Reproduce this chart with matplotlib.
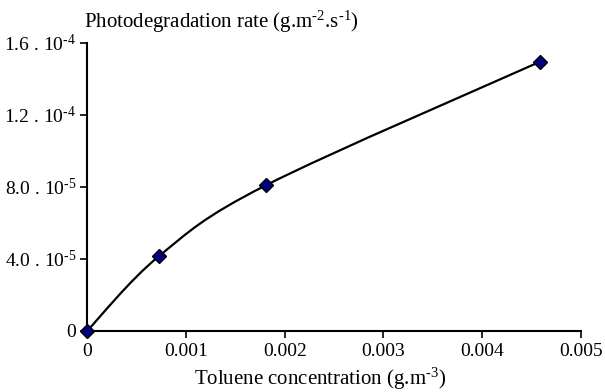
import matplotlib
matplotlib.use('Agg')
import matplotlib.pyplot as plt
import numpy as np
from matplotlib.path import Path
from matplotlib.patches import PathPatch

plt.rcParams['font.family'] = 'Liberation Serif'
plt.rcParams['mathtext.fontset'] = 'custom'
plt.rcParams['mathtext.rm'] = 'Liberation Serif'
plt.rcParams['mathtext.it'] = 'Liberation Serif:italic'
plt.rcParams['mathtext.bf'] = 'Liberation Serif:bold'

# Data
toluene = [0.0, 0.00073, 0.00181, 0.00459]        # g.m-3
rate = [0.0, 4.16e-5, 8.08e-5, 1.495e-4]         # g.m-2.s-1

x_ticks = [0, 0.001, 0.002, 0.003, 0.004, 0.005]
x_labels = ['0', '0.001', '0.002', '0.003', '0.004', '0.005']
y_ticks = [0, 4e-5, 8e-5, 1.2e-4, 1.6e-4]
y_labels = ['0', r'4.0 . 10$^{\text{-5}}$', r'8.0 . 10$^{\text{-5}}$',
            r'1.2 . 10$^{\text{-4}}$', r'1.6 . 10$^{\text{-4}}$']

fig = plt.figure(figsize=(6.05, 3.92), dpi=100)
ax = fig.add_axes([0.1443, 0.1564, 0.8157, 0.7347])

# smoothed line (Excel-like cardinal spline as Bezier segments)
x = np.array(toluene)
y = np.array(rate)
n = len(x)
verts = [(x[0], y[0])]
codes = [Path.MOVETO]
for i in range(n - 1):
    xp, yp = (x[i - 1], y[i - 1]) if i > 0 else (x[i], y[i])
    xn, yn = (x[i + 2], y[i + 2]) if i + 2 < n else (x[i + 1], y[i + 1])
    c1 = (x[i] + (x[i + 1] - xp) / 6, y[i] + (y[i + 1] - yp) / 6)
    c2 = (x[i + 1] - (xn - x[i]) / 6, y[i + 1] - (yn - y[i]) / 6)
    verts += [c1, c2, (x[i + 1], y[i + 1])]
    codes += [Path.CURVE4] * 3
ax.add_patch(PathPatch(Path(verts, codes), fill=False, edgecolor='black', lw=1.6, zorder=2))

ax.plot(toluene, rate, linestyle='none', marker='D', markersize=7.5,
        markerfacecolor='#000080', markeredgecolor='black', markeredgewidth=1.0,
        clip_on=False, zorder=3)

ax.set_xlim(0, 0.005)
ax.set_ylim(0, 1.6e-4)
ax.set_xticks(x_ticks)
ax.set_xticklabels(x_labels)
ax.set_yticks(y_ticks)
ax.set_yticklabels(y_labels)
ax.tick_params(direction='out', length=5, width=1.2, labelsize=14, pad=3, color='black')
ax.tick_params(axis='x', pad=4)

for s in ['top', 'right']:
    ax.spines[s].set_visible(False)
for s in ['left', 'bottom']:
    ax.spines[s].set_linewidth(1.5)

fig.text(320 / 605, 1 - 385 / 392, r'Toluene concentration (g.m$^{\text{-3}}$)',
         ha='center', va='baseline', fontsize=15)
fig.text(84 / 605, 1 - 28 / 392, r'Photodegradation rate (g.m$^{\text{-2}}$.s$^{\text{-1}}$)',
         ha='left', va='baseline', fontsize=15)

fig.savefig('out.png', dpi=100)
